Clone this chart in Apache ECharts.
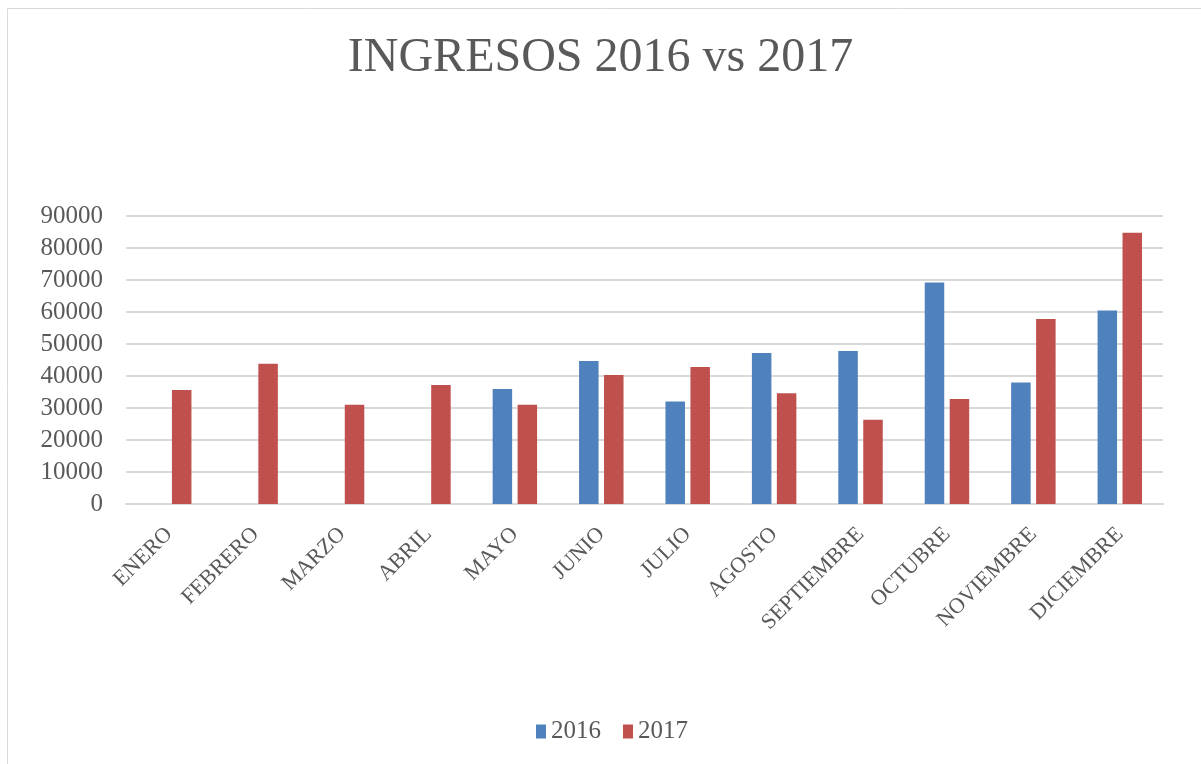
<!DOCTYPE html>
<html>
<head>
<meta charset="utf-8">
<title>INGRESOS 2016 vs 2017</title>
<script src="https://cdn.jsdelivr.net/npm/echarts@6/dist/echarts.min.js"></script>
<style>
    html, body { margin: 0; padding: 0; background: #ffffff; }
    #chart { width: 1201px; height: 764px; }
</style>
</head>
<body>
<div id="chart"></div>
<script>
    // meses
    var months = ['ENERO', 'FEBRERO', 'MARZO', 'ABRIL', 'MAYO', 'JUNIO', 'JULIO',
        'AGOSTO', 'SEPTIEMBRE', 'OCTUBRE', 'NOVIEMBRE', 'DICIEMBRE'];
    // ingresos por año (sin datos 2016 de enero a abril)
    var ingresos2016 = [null, null, null, null, 35900, 44700, 32000, 47200, 47800, 69200, 38000, 60500];
    var ingresos2017 = [35600, 43800, 31000, 37200, 31000, 40300, 42800, 34600, 26300, 32800, 57800, 84800];
    var yTicks = { min: 0, max: 90000, interval: 10000 };

    var serif = '"Liberation Serif", "DejaVu Serif", serif';
    var grey = '#595959';

    var chart = echarts.init(document.getElementById('chart'));
    chart.setOption({
        animation: false,
        title: {
            text: 'INGRESOS 2016 vs 2017',
            left: 'center',
            top: 29,
            textStyle: { fontFamily: serif, fontSize: 48, fontWeight: 'normal', color: grey }
        },
        legend: {
            bottom: 15,
            left: 531,
            itemWidth: 10,
            itemHeight: 14,
            itemGap: 22,
            icon: 'rect',
            textStyle: { fontFamily: serif, fontSize: 25, color: grey },
            data: ['2016', '2017']
        },
        graphic: [{
            type: 'rect',
            shape: { x: 7.5, y: 8.5, width: 1300, height: 900 },
            style: { fill: 'none', stroke: '#d9d9d9', lineWidth: 1 },
            silent: true
        }],
        grid: { left: 126, right: 38, top: 216, height: 288 },
        xAxis: {
            type: 'category',
            data: months,
            axisLine: { lineStyle: { color: '#d9d9d9', width: 2 } },
            axisTick: { show: false },
            axisLabel: {
                rotate: 45,
                interval: 0,
                margin: 27,
                fontFamily: serif,
                fontSize: 22,
                color: grey
            }
        },
        yAxis: {
            type: 'value',
            min: yTicks.min,
            max: yTicks.max,
            interval: yTicks.interval,
            axisLine: { show: false },
            axisTick: { show: false },
            splitLine: { lineStyle: { color: '#d9d9d9', width: 2 } },
            axisLabel: {
                fontFamily: serif,
                fontSize: 25,
                color: grey,
                margin: 23,
                formatter: function (v) { return String(v); }
            }
        },
        series: [
            {
                name: '2016',
                type: 'bar',
                data: ingresos2016,
                barWidth: 19.5,
                barGap: '28%',
                itemStyle: { color: '#4f81bd' }
            },
            {
                name: '2017',
                type: 'bar',
                data: ingresos2017,
                barWidth: 19.5,
                barGap: '28%',
                itemStyle: { color: '#c0504d' }
            }
        ]
    });
</script>
</body>
</html>
